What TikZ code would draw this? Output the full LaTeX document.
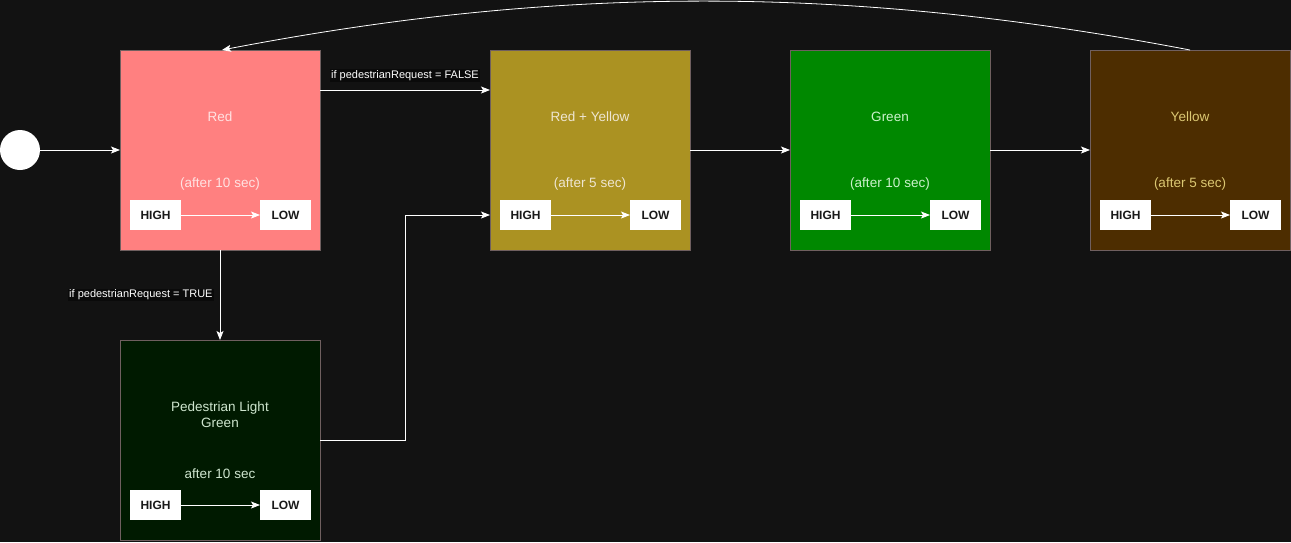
\documentclass[tikz,border=0pt]{standalone}
\usepackage{fontspec}
\setmainfont{Liberation Sans}
\usetikzlibrary{positioning,arrows.meta}

\definecolor{bg}{HTML}{121212}
\definecolor{boxline}{HTML}{6F5F5F}
\definecolor{condbg}{HTML}{0A0A0A}
\definecolor{redfill}{HTML}{FF8080}
\definecolor{redtxt}{HTML}{FFE2E2}
\definecolor{ryfill}{HTML}{AB9222}
\definecolor{rytxt}{HTML}{EEE6D2}
\definecolor{greenfill}{HTML}{008800}
\definecolor{greentxt}{HTML}{CCF2CC}
\definecolor{yellowfill}{HTML}{4D2D00}
\definecolor{yellowtxt}{HTML}{DCC873}
\definecolor{pedfill}{HTML}{001A00}
\definecolor{pedtxt}{HTML}{CFE6CF}

\begin{document}
\begin{tikzpicture}[x=1pt,y=-1pt,node distance=90pt and 100pt,
  font=\fontsize{13.5}{16}\selectfont,
  state/.style={draw=boxline, line width=1pt, minimum width=200pt, minimum height=200pt, inner sep=0pt, outer sep=0pt},
  hl/.style={fill=white, minimum width=51pt, minimum height=30pt, inner sep=0pt, outer sep=0pt, text=black!90, font=\bfseries\fontsize{12}{14}\selectfont},
  link/.style={-{Stealth[length=9pt,width=7pt,inset=2pt]}, white, line width=0.8pt},
  cond/.style={fill=condbg, text=white, inner sep=1pt, font=\fontsize{11}{13}\selectfont}]
	\useasboundingbox (0,0) rectangle (1291,542);
	\fill[bg] (0,0) rectangle (1291,542);

	\node[circle, fill=white, minimum size=40pt, inner sep=0pt, outer sep=0pt] (start) at (20,150) {};
	\node[state, fill=redfill] (red) at (220,150) {};
	\node[state, fill=ryfill, right=170pt of {red}] (ry) {};
	\node[state, fill=greenfill, right=of {ry}] (green) {};
	\node[state, fill=yellowfill, right=of {green}] (yellow) {};
	\node[state, fill=pedfill, below=of {red}] (ped) {};

	% titles and timers
	\node[text=redtxt] at ([yshift=-67pt]red.north) {Red};
	\node[text=rytxt] at ([yshift=-67pt]ry.north) {Red + Yellow};
	\node[text=greentxt] at ([yshift=-67pt]green.north) {Green};
	\node[text=yellowtxt] at ([yshift=-67pt]yellow.north) {Yellow};
	\node[text=pedtxt, align=center] at ([yshift=-75pt]ped.north) {Pedestrian Light\\Green};
	\node[text=redtxt] at ([yshift=66pt]red.south) {(after 10 sec)};
	\node[text=rytxt] at ([yshift=66pt]ry.south) {(after 5 sec)};
	\node[text=greentxt] at ([yshift=66pt]green.south) {(after 10 sec)};
	\node[text=yellowtxt] at ([yshift=66pt]yellow.south) {(after 5 sec)};
	\node[text=pedtxt] at ([yshift=66pt]ped.south) {after 10 sec};

	\foreach \s in {red,ry,green,yellow,ped} {
		\node[hl, above right=20pt and 10pt of {\s.south west}] (\s-hi) {HIGH};
		\node[hl, above left=20pt and 9pt of {\s.south east}] (\s-lo) {LOW};
		\draw[link] (\s-hi) -- (\s-lo);
	}

	\draw[link] (start) -- (red);
	\draw[link] ([yshift=60pt]red.east) -- node[cond, above=8pt] {if pedestrianRequest = FALSE} ([yshift=60pt]ry.west);
	\draw[link] (red) -- node[cond, left=6pt] {if pedestrianRequest = TRUE} (ped);
	\draw[link] (ped.east) -- ++(85,0) |- ([yshift=-65pt]ry.west);
	\draw[link] (ry) -- (green);
	\draw[link] (green) -- (yellow);
	\draw[link] (yellow.north) .. controls (850,-15) and (560,-15) .. ([xshift=2pt]red.north);
\end{tikzpicture}
\end{document}
